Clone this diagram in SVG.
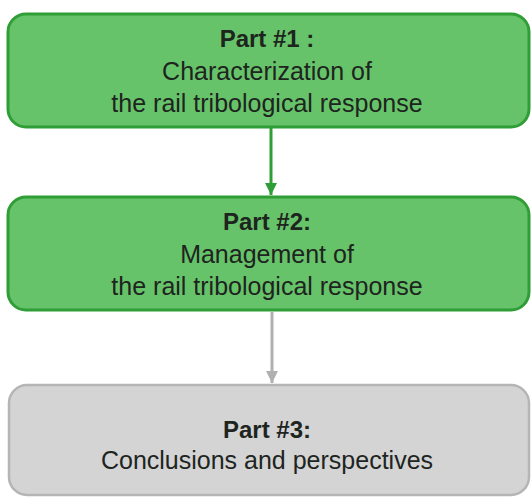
<svg xmlns="http://www.w3.org/2000/svg" width="532" height="497" viewBox="0 0 532 497">
<defs>
<style>
.green{fill:#67c36a;stroke:#2f9e36;stroke-width:3}
.gray{fill:#d4d4d4;stroke:#b5b5b5;stroke-width:2.5}
text{font-family:"Liberation Sans",Arial,sans-serif;font-size:25px;fill:#1e241e;text-anchor:middle}
.b{font-weight:bold;font-size:24px}
</style>
<marker id="ag" viewBox="0 0 12 12" refX="12" refY="6" markerWidth="12" markerHeight="12" markerUnits="userSpaceOnUse" orient="auto"><path d="M0,0 L12,6 L0,12 z" fill="#2f9e36"/></marker>
<marker id="ay" viewBox="0 0 12 12" refX="12" refY="6" markerWidth="12" markerHeight="12" markerUnits="userSpaceOnUse" orient="auto"><path d="M0,0 L12,6 L0,12 z" fill="#b0b0b0"/></marker>
</defs>
<g id="connectors">
<line x1="271" y1="128" x2="271" y2="195" stroke="#2f9e36" stroke-width="3" marker-end="url(#ag)"/>
<line x1="272" y1="312" x2="272" y2="383" stroke="#b0b0b0" stroke-width="3" marker-end="url(#ay)"/>
</g>
<g id="part1">
<rect class="green" x="8" y="14" width="521" height="113" rx="18"/>
<text class="b" x="267" y="47">Part #1 :</text>
<text x="267" y="80">Characterization of</text>
<text x="267" y="112">the rail tribological response</text>
</g>
<g id="part2">
<rect class="green" x="8" y="197" width="521" height="113" rx="18"/>
<text class="b" x="267" y="230">Part #2:</text>
<text x="267" y="263">Management of</text>
<text x="267" y="295">the rail tribological response</text>
</g>
<g id="part3">
<rect class="gray" x="9" y="385" width="520" height="110" rx="18"/>
<text class="b" x="267" y="438">Part #3:</text>
<text x="267" y="469">Conclusions and perspectives</text>
</g>
</svg>
